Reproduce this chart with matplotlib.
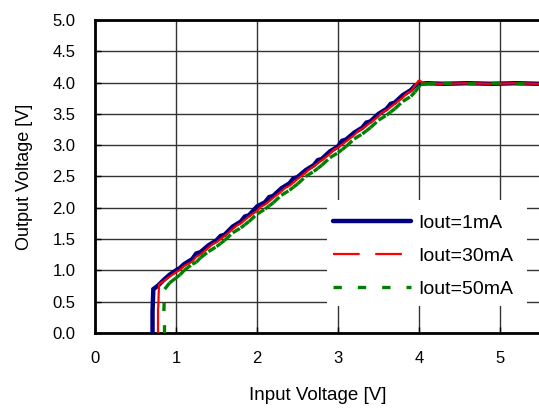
import matplotlib
matplotlib.use("Agg")
import matplotlib.pyplot as plt
from matplotlib.collections import LineCollection
from matplotlib.lines import Line2D
from matplotlib.patches import Rectangle
import numpy as np

plt.rcParams['font.family'] = ['Liberation Sans', 'DejaVu Sans']

# Vout vs Vin for three load currents
vin_1ma = [0.71, 0.71, 0.72, 0.78, 0.85, 0.92, 1.00, 1.05, 1.10, 1.20, 1.25, 1.30, 1.40, 1.50,
           1.55, 1.60, 1.70, 1.80, 1.85, 1.90, 2.00, 2.10, 2.15, 2.20, 2.30, 2.40, 2.45, 2.50,
           2.60, 2.70, 2.75, 2.80, 2.90, 3.00, 3.05, 3.10, 3.20, 3.30, 3.35, 3.40, 3.50, 3.60,
           3.65, 3.70, 3.80, 3.90, 3.95, 4.00, 4.10, 4.30, 4.60, 4.90, 5.20, 5.50]
vout_1ma = [0.00, 0.35, 0.70, 0.76, 0.85, 0.93, 1.00, 1.04, 1.10, 1.18, 1.27, 1.29, 1.40, 1.48,
            1.55, 1.57, 1.70, 1.78, 1.86, 1.88, 2.02, 2.09, 2.17, 2.19, 2.31, 2.39, 2.47, 2.49,
            2.60, 2.68, 2.76, 2.78, 2.90, 2.98, 3.07, 3.09, 3.20, 3.28, 3.36, 3.38, 3.50, 3.58,
            3.66, 3.68, 3.80, 3.88, 3.95, 3.98, 3.99, 3.98, 3.99, 3.98, 3.99, 3.98]

vin_30ma = [0.78, 0.78, 0.79, 0.85, 0.92, 1.00, 1.05, 1.10, 1.20, 1.25, 1.30, 1.40, 1.45, 1.50,
            1.60, 1.70, 1.75, 1.80, 1.90, 2.00, 2.05, 2.10, 2.20, 2.30, 2.35, 2.40, 2.50, 2.60,
            2.65, 2.70, 2.80, 2.90, 2.95, 3.00, 3.10, 3.20, 3.25, 3.30, 3.40, 3.50, 3.55, 3.60,
            3.70, 3.80, 3.85, 3.90, 4.00, 4.05, 4.30, 4.60, 4.90, 5.20, 5.50]
vout_30ma = [0.00, 0.40, 0.78, 0.83, 0.90, 0.97, 1.01, 1.07, 1.14, 1.22, 1.25, 1.36, 1.42, 1.45,
             1.55, 1.66, 1.72, 1.75, 1.86, 1.95, 2.02, 2.05, 2.16, 2.26, 2.32, 2.35, 2.46, 2.56,
             2.62, 2.66, 2.76, 2.86, 2.93, 2.96, 3.06, 3.16, 3.23, 3.26, 3.36, 3.46, 3.53, 3.56,
             3.66, 3.76, 3.83, 3.86, 4.04, 3.99, 3.98, 3.99, 3.98, 3.99, 3.98]

vin_50ma = [0.85, 0.85, 0.86, 0.92, 1.00, 1.05, 1.10, 1.20, 1.25, 1.30, 1.40, 1.50, 1.55, 1.60,
            1.70, 1.80, 1.85, 1.90, 2.00, 2.10, 2.15, 2.20, 2.30, 2.40, 2.45, 2.50, 2.60, 2.70,
            2.75, 2.80, 2.90, 3.00, 3.05, 3.10, 3.20, 3.30, 3.35, 3.40, 3.50, 3.60, 3.65, 3.70,
            3.80, 3.90, 3.95, 4.02, 4.10, 4.30, 4.60, 4.90, 5.20, 5.50]
vout_50ma = [0.00, 0.35, 0.70, 0.80, 0.88, 0.93, 1.00, 1.10, 1.13, 1.20, 1.30, 1.38, 1.43, 1.48,
             1.60, 1.68, 1.73, 1.78, 1.90, 1.98, 2.03, 2.08, 2.20, 2.28, 2.33, 2.38, 2.50, 2.58,
             2.63, 2.68, 2.80, 2.88, 2.93, 2.98, 3.10, 3.18, 3.23, 3.28, 3.40, 3.48, 3.53, 3.58,
             3.70, 3.78, 3.85, 3.97, 3.98, 3.99, 3.98, 3.99, 3.98, 3.99]

labels = ['Iout=1mA', 'Iout=30mA', 'Iout=50mA']
x_ticks = [0, 1, 2, 3, 4, 5]
y_ticks = [0.0, 0.5, 1.0, 1.5, 2.0, 2.5, 3.0, 3.5, 4.0, 4.5, 5.0]

RED_DASH = (0, (12, 7))
GREEN_DASH = (0, (2.5, 4.8))

fig = plt.figure(figsize=(5.39, 4.11), dpi=100)
ax = fig.add_axes([0.1763, 0.1898, 0.8265, 0.7616])


def segments(xs, ys):
    # each segment restarts its own dash pattern
    pts = np.column_stack([xs, ys])
    return np.stack([pts[:-1], pts[1:]], axis=1)


ax.plot(vin_1ma, vout_1ma, color='#000080', lw=3.2, solid_joinstyle='miter', zorder=3)
ax.add_collection(LineCollection(segments(vin_30ma, vout_30ma), colors='#ff0000',
                                 linewidths=1.6, linestyles=[RED_DASH], zorder=4))
ax.add_collection(LineCollection(segments(vin_50ma, vout_50ma), colors='#008000',
                                 linewidths=2.4, linestyles=[GREEN_DASH], zorder=5))

ax.set_xlim(0, 5.5)
ax.set_ylim(0, 5.0)
ax.set_xticks(x_ticks)
ax.set_xticklabels([str(t) for t in x_ticks])
ax.set_yticks(y_ticks)
ax.set_yticklabels([f'{t:.1f}' for t in y_ticks])
ax.tick_params(direction='in', length=4, width=1, labelsize=12, pad=13)
ax.tick_params(axis='y', pad=14)
ax.grid(True, color='#333333', lw=1.0)
ax.set_axisbelow(True)
for side in ['left', 'bottom', 'top']:
    ax.spines[side].set_linewidth(2.0)
ax.spines['right'].set_visible(False)

ax.set_xlabel('Input Voltage [V]', fontsize=13.5, labelpad=15)
ax.set_ylabel('Output Voltage [V]', fontsize=13, labelpad=14)

# white panel behind the legend hides the grid
ax.add_patch(Rectangle((0.521, 0.086), 0.449, 0.339, transform=ax.transAxes,
                       facecolor='white', edgecolor='none', zorder=1))

handles = [
    Line2D([], [], color='#000080', lw=3.2, solid_capstyle='round'),
    Line2D([], [], color='#ff0000', lw=1.6, linestyle=RED_DASH),
    Line2D([], [], color='#008000', lw=2.4, linestyle=GREEN_DASH),
]
leg = ax.legend(handles, labels, loc='upper left', bbox_to_anchor=(0.534, 0.380),
                frameon=False, fontsize=14, handlelength=4.0, handletextpad=0.4,
                labelspacing=0.8, borderpad=0, borderaxespad=0)
leg.set_zorder(10)

fig.savefig('out.png', dpi=100)
